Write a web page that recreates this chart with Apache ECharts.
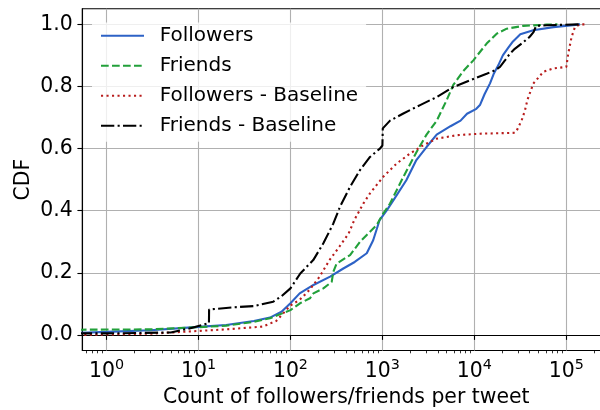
<!DOCTYPE html>
<html>
<head>
<meta charset="utf-8">
<script src="https://cdn.jsdelivr.net/npm/echarts@6/dist/echarts.min.js"></script>
<style>
  html, body { margin: 0; padding: 0; background: #fff; }
  #chart { width: 600px; height: 410px; }
</style>
</head>
<body>
<div id="chart"></div>
<script>
// Empirical CDFs of followers/friends counts per tweet: [count, cumulative fraction]
const seriesNames = ['Followers', 'Friends', 'Followers - Baseline', 'Friends - Baseline'];

const followers = [
  [0.5, 0.007], [1, 0.010], [3, 0.015], [10, 0.026], [20, 0.032], [40, 0.045],
  [60, 0.056], [80, 0.075], [100, 0.102], [126, 0.134], [178, 0.161], [270, 0.188],
  [376, 0.214], [500, 0.235], [676, 0.263], [794, 0.305], [933, 0.370], [1120, 0.402],
  [1320, 0.434], [1820, 0.498], [2340, 0.563], [3020, 0.605], [3890, 0.645],
  [5500, 0.672], [7080, 0.690], [8320, 0.712], [10500, 0.728], [11500, 0.740],
  [12900, 0.775], [14800, 0.810], [16200, 0.840], [18200, 0.868], [20400, 0.900],
  [23400, 0.925], [26300, 0.945], [31600, 0.968], [43700, 0.981], [72400, 0.991],
  [141000, 1.0]
];

const friends = [
  [0.5, 0.017], [3, 0.018], [6, 0.022], [10, 0.025], [20, 0.030], [40, 0.042],
  [60, 0.054], [100, 0.080], [127, 0.102], [163, 0.118], [178, 0.134], [228, 0.150],
  [281, 0.171], [293, 0.204], [318, 0.230], [445, 0.257], [571, 0.300], [676, 0.322],
  [867, 0.354], [1020, 0.391], [1210, 0.423], [1690, 0.509], [2360, 0.590],
  [3020, 0.645], [3900, 0.690], [5000, 0.756], [5900, 0.805], [7590, 0.850],
  [9750, 0.884], [11500, 0.911], [13600, 0.938], [17500, 0.970], [22500, 0.986],
  [34100, 0.995], [61200, 0.999], [80000, 1.0]
];

const followersBaseline = [
  [0.5, 0.0], [3, 0.004], [10, 0.013], [20, 0.018], [50, 0.027], [70, 0.045],
  [100, 0.095], [126, 0.113], [161, 0.145], [207, 0.187], [266, 0.241], [340, 0.284],
  [430, 0.327], [495, 0.370], [620, 0.423], [733, 0.456], [1020, 0.509], [1430, 0.552],
  [2000, 0.584], [2790, 0.611], [3900, 0.632], [6430, 0.643], [11500, 0.648],
  [22500, 0.650], [27500, 0.651], [29000, 0.659], [32700, 0.691], [35500, 0.723],
  [37700, 0.756], [43700, 0.809], [56200, 0.847], [72400, 0.858], [100000, 0.863],
  [105000, 0.906], [114000, 0.959], [124000, 0.991], [141000, 1.0], [160000, 1.0]
];

const friendsBaseline = [
  [0.5, 0.005], [1, 0.005], [5, 0.008], [8, 0.021], [10, 0.029], [13.0, 0.038],
  [13.05, 0.082], [24, 0.089], [40, 0.093], [65, 0.107], [80, 0.125], [100, 0.150],
  [128, 0.198], [177, 0.241], [228, 0.295], [293, 0.359], [346, 0.413], [445, 0.477],
  [571, 0.531], [733, 0.573], [940, 0.600], [1000, 0.610], [1010, 0.665],
  [1210, 0.690], [1690, 0.713], [2570, 0.740], [3900, 0.766], [5900, 0.798],
  [9000, 0.820], [13600, 0.841], [16800, 0.852], [19000, 0.863], [21500, 0.884],
  [24400, 0.906], [27500, 0.921], [32700, 0.938], [40000, 0.960], [44000, 0.975],
  [46000, 0.978], [47000, 0.995], [61200, 0.997], [141000, 1.0]
];

const xMajorTicks = [1, 10, 100, 1000, 10000, 100000];
const yTicks = [0, 0.2, 0.4, 0.6, 0.8, 1.0];

// minor ticks at 2..9 x 10^n on the log axis
const xMinorTicks = [];
for (let e = -1; e <= 5; e++) {
  for (let k = 2; k <= 9; k++) xMinorTicks.push(k * Math.pow(10, e));
}

const FONT = 'DejaVu Sans';
const FS = 20.4;
const X_MIN = 0.5455;
const X_MAX = 300000;

const lineDefs = [
  { data: followers,         color: '#2d62c6', dash: 'solid' },
  { data: friends,           color: '#22a03a', dash: [7.7, 3.3] },
  { data: followersBaseline, color: '#b81c1c', dash: [2.1, 3.4] },
  { data: friendsBaseline,   color: '#000000', dash: [13.3, 3.3, 2.1, 3.3] }
];

const chart = echarts.init(document.getElementById('chart'), null, { renderer: 'canvas' });

chart.setOption({
  animation: false,
  backgroundColor: '#ffffff',
  textStyle: { fontFamily: FONT },
  grid: {
    left: 82.3, top: 8.8, right: -10.2, bottom: 59.5,
    show: true, borderColor: '#000', borderWidth: 1.1, backgroundColor: 'transparent',
    containLabel: false, outerBoundsMode: 'none'
  },
  legend: {
    data: seriesNames,
    orient: 'vertical',
    left: 92, top: 22.5,
    padding: [3.3, 8, 6, 8],
    itemWidth: 43, itemHeight: 20, itemGap: 10,
    backgroundColor: 'rgba(255,255,255,0.8)',
    // line sample only, no marker on the legend key
    itemStyle: { color: 'transparent', borderColor: 'transparent', borderWidth: 0 },
    textStyle: { fontFamily: FONT, fontSize: 20, color: '#000', padding: [0, 0, 0, 10.7] }
  },
  xAxis: [
    {
      type: 'log', logBase: 10, min: X_MIN, max: X_MAX, position: 'bottom',
      name: 'Count of followers/friends per tweet', nameLocation: 'middle', nameGap: 37,
      nameMoveOverlap: false,
      nameTextStyle: { fontFamily: FONT, fontSize: FS, color: '#000' },
      axisLine: { show: true, lineStyle: { color: '#000', width: 1.1 } },
      axisTick: { show: true, customValues: xMajorTicks, length: 4.9, lineStyle: { color: '#000', width: 1.1 } },
      axisLabel: {
        show: true, customValues: xMajorTicks, margin: 8,
        formatter: v => '{b|10}{s|' + Math.round(Math.log10(v)) + '}',
        rich: {
          b: { fontFamily: FONT, fontSize: FS, lineHeight: 26, color: '#000' },
          s: { fontFamily: FONT, fontSize: 14.3, lineHeight: 10, verticalAlign: 'top', color: '#000' }
        }
      },
      splitLine: { show: true, lineStyle: { color: '#b0b0b0', width: 1.1 } },
      minorTick: { show: false }, minorSplitLine: { show: false }
    },
    {
      type: 'log', logBase: 10, min: X_MIN, max: X_MAX, position: 'bottom', gridIndex: 0,
      axisLine: { show: false },
      axisTick: { show: true, customValues: xMinorTicks, length: 2.8, lineStyle: { color: '#000', width: 0.8 } },
      axisLabel: { show: false },
      splitLine: { show: false }
    }
  ],
  yAxis: {
    type: 'value', min: -0.05, max: 1.05,
    name: 'CDF', nameLocation: 'middle', nameGap: 48.5, nameRotate: 90,
    nameMoveOverlap: false,
    nameTextStyle: { fontFamily: FONT, fontSize: FS, color: '#000' },
    axisLine: { show: true, lineStyle: { color: '#000', width: 1.1 } },
    axisTick: { show: true, customValues: yTicks, length: 4.9, lineStyle: { color: '#000', width: 1.1 } },
    axisLabel: {
      show: true, customValues: yTicks, margin: 9.6,
      fontFamily: FONT, fontSize: FS, color: '#000',
      formatter: v => v.toFixed(1)
    },
    splitLine: { show: true, lineStyle: { color: '#b0b0b0', width: 1.1 } }
  },
  series: lineDefs.map((d, i) => ({
    name: seriesNames[i],
    type: 'line',
    xAxisIndex: 0,
    data: d.data,
    symbol: 'none',
    showSymbol: false,
    clip: true,
    lineStyle: { color: d.color, width: 2.1, type: d.dash, cap: 'butt' },
    itemStyle: { color: d.color },
    emphasis: { disabled: true }
  }))
});
</script>
</body>
</html>
